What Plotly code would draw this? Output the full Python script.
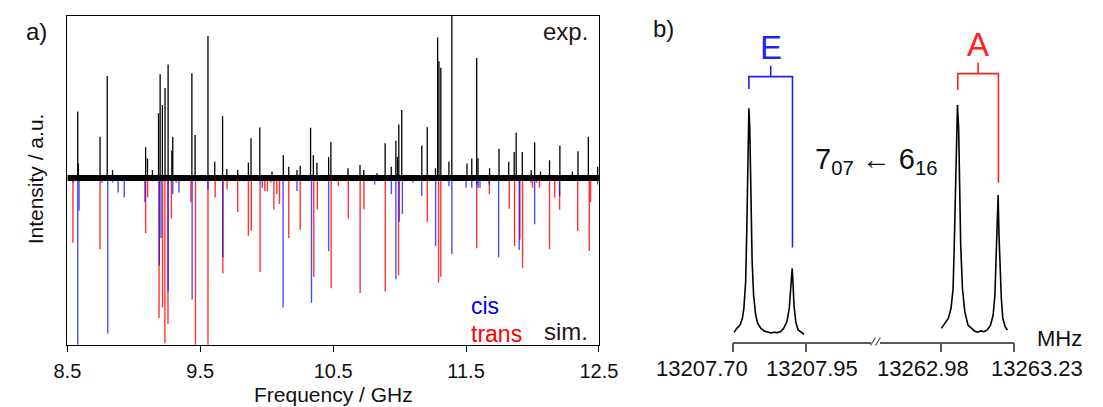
import plotly.graph_objects as go

# ---------------- panel a data ----------------
exp_freq = [8.578, 8.583, 8.746, 8.800, 8.840, 9.089, 9.103, 9.140, 9.186, 9.198, 9.215,
            9.235, 9.258, 9.286, 9.293, 9.437, 9.461, 9.558, 9.609, 9.668, 9.700, 9.782,
            9.862, 9.882, 9.948, 10.040, 10.125, 10.166, 10.228, 10.252, 10.330, 10.351,
            10.378, 10.466, 10.483, 10.612, 10.702, 10.730, 10.830, 10.891, 10.937, 10.972,
            10.984, 10.994, 11.016, 11.167, 11.208, 11.270, 11.286, 11.296, 11.310, 11.371,
            11.393, 11.507, 11.543, 11.580, 11.590, 11.677, 11.748, 11.821, 11.862, 11.877,
            11.923, 11.990, 12.016, 12.060, 12.128, 12.206, 12.300, 12.342, 12.420, 12.490]
exp_int = [0.41, 0.09, 0.255, 0.63, 0.05, 0.19, 0.12, 0.05, 0.40, 0.64, 0.45,
           0.555, 0.70, 0.17, 0.255, 0.646, 0.265, 0.876, 0.10, 0.383, 0.055, 0.05,
           0.095, 0.245, 0.311, 0.04, 0.14, 0.07, 0.05, 0.075, 0.31, 0.14,
           0.094, 0.13, 0.224, 0.06, 0.08, 0.05, 0.03, 0.214, 0.07, 0.23,
           0.13, 0.33, 0.42, 0.20, 0.313, 0.06, 0.868, 0.72, 0.68, 0.10,
           1.05, 0.09, 0.12, 0.74, 0.12, 0.06, 0.18, 0.10, 0.16, 0.28,
           0.16, 0.05, 0.22, 0.04, 0.11, 0.20, 0.04, 0.165, 0.254, 0.07]

cis_freq = [8.545, 8.578, 8.588, 8.631, 8.760, 8.804, 8.840, 8.882, 8.928, 9.030, 9.084,
            9.140, 9.150, 9.192, 9.205, 9.258, 9.293, 9.340, 9.439, 9.485, 9.550, 9.558,
            9.650, 9.670, 9.830, 9.967, 10.060, 10.123, 10.228, 10.337, 10.466, 10.655,
            10.812, 10.938, 10.972, 10.997, 11.021, 11.040, 11.100, 11.167, 11.271, 11.371,
            11.393, 11.500, 11.543, 11.580, 11.590, 11.605, 11.675, 11.745, 11.900, 12.016,
            12.204, 12.310, 12.360, 12.490]
cis_int = [0.03, 1.03, 0.20, 0.02, 0.03, 0.96, 0.03, 0.09, 0.12, 0.01, 0.15,
           0.02, 0.02, 0.54, 0.37, 0.70, 0.10, 0.09, 0.75, 0.02, 0.02, 0.07,
           0.02, 0.49, 0.02, 0.06, 0.02, 0.80, 0.08, 0.77, 0.45, 0.02,
           0.04, 0.10, 0.625, 0.27, 0.22, 0.02, 0.03, 0.11, 0.42, 0.05,
           0.47, 0.06, 0.06, 0.04, 0.06, 0.06, 0.04, 0.49, 0.445, 0.286,
           0.11, 0.02, 0.02, 0.04]

trans_freq = [8.542, 8.746, 9.089, 9.104, 9.190, 9.216, 9.234, 9.257, 9.283, 9.320, 9.430,
              9.464, 9.558, 9.612, 9.670, 9.702, 9.782, 9.862, 9.884, 9.950, 9.986, 10.005,
              10.030, 10.054, 10.076, 10.096, 10.166, 10.252, 10.354, 10.381, 10.485, 10.539,
              10.614, 10.703, 10.732, 10.892, 10.992, 11.208, 11.293, 11.310, 11.400, 11.580,
              11.675, 11.825, 11.865, 11.905, 11.925, 11.988, 12.000, 12.030, 12.052, 12.128,
              12.167, 12.204, 12.340, 12.427, 12.437]
trans_int = [0.40, 0.44, 0.34, 0.12, 0.865, 0.80, 1.02, 0.90, 0.25, 0.03, 0.15,
             1.03, 1.03, 0.12, 0.59, 0.07, 0.21, 0.356, 0.327, 0.58, 0.08, 0.08,
             0.03, 0.195, 0.10, 0.16, 0.37, 0.32, 0.61, 0.195, 0.68, 0.05,
             0.25, 0.71, 0.195, 0.70, 0.60, 0.27, 0.646, 0.61, 0.02, 0.434,
             0.10, 0.19, 0.42, 0.38, 0.557, 0.03, 0.06, 0.03, 0.06, 0.44,
             0.12, 0.196, 0.327, 0.45, 0.15]

a_ticks = [8.5, 9.5, 10.5, 11.5, 12.5]
a_tick_labels = ["8.5", "9.5", "10.5", "11.5", "12.5"]

# ---------------- panel b data ----------------
e_freq = [13207.705, 13207.714, 13207.725, 13207.733, 13207.738, 13207.744, 13207.748,
          13207.751, 13207.755, 13207.758, 13207.761, 13207.766, 13207.771, 13207.778,
          13207.785, 13207.796, 13207.807, 13207.818, 13207.829, 13207.840, 13207.851,
          13207.862, 13207.873, 13207.884, 13207.892, 13207.897, 13207.902, 13207.905,
          13207.908, 13207.914, 13207.922, 13207.933, 13207.942]
e_int = [2.88, 4.10, 5.13, 7.18, 10.25, 18.4, 34.8, 55.3, 71.7, 65.5, 45.0, 24.6, 14.3, 8.2,
         5.6, 4.1, 3.3, 2.9, 2.67, 2.9, 2.8, 3.07, 4.1, 6.1, 10.25, 16.4, 22.5, 17.4,
         11.3, 6.1, 3.6, 2.9, 2.26]

a_freq = [13262.981, 13262.992, 13263.005, 13263.014, 13263.021, 13263.025, 13263.030,
          13263.033, 13263.036, 13263.040, 13263.043, 13263.047, 13263.053, 13263.061,
          13263.072, 13263.083, 13263.094, 13263.105, 13263.116, 13263.127, 13263.138,
          13263.149, 13263.158, 13263.164, 13263.168, 13263.171, 13263.175, 13263.178,
          13263.181, 13263.186, 13263.191, 13263.199, 13263.207]
a_int = [4.1, 5.6, 7.2, 10.25, 16.4, 29.7, 50.2, 65.5, 72.7, 65.5, 50.2, 29.7, 16.4, 9.2,
         5.1, 4.1, 3.3, 2.9, 3.3, 3.07, 3.6, 5.1, 8.2, 14.3, 24.6, 32.8, 45.0, 32.8,
         22.5, 13.3, 7.2, 4.6, 3.6]

# brackets: left freq, right freq, bar height, left leg end, right leg end, centre top
e_bracket = [13207.755, 13207.903, 81.4, 77.6, 28.9, 84.7]
a_bracket = [13263.037, 13263.176, 82.3, 77.3, 48.8, 85.7]

b_ticks_low = [13207.70, 13207.95]
b_ticks_high = [13262.98, 13263.23]
b_tick_labels = ["13207.70", "13207.95", "13262.98", "13263.23"]

FONT = "Liberation Sans, Arial, sans-serif"
W, H = 1103, 407


def px_x(p):
    return p / W


def px_y(p):
    return (H - p) / H


def sticks(freqs, vals, sign):
    xs, ys = [], []
    for f, v in zip(freqs, vals):
        xs += [f, f, None]
        ys += [0, sign * v, None]
    return xs, ys


fig = go.Figure()

tx, ty = sticks(trans_freq, trans_int, -1)
fig.add_trace(go.Scatter(x=tx, y=ty, mode="lines", line=dict(color="rgba(255,0,0,0.8)", width=1.4),
                         hoverinfo="skip", showlegend=False))
cx, cy = sticks(cis_freq, cis_int, -1)
fig.add_trace(go.Scatter(x=cx, y=cy, mode="lines", line=dict(color="rgba(0,0,255,0.7)", width=1.4),
                         hoverinfo="skip", showlegend=False))
# noisy experimental baseline band
fig.add_trace(go.Scatter(x=[a_ticks[0], a_ticks[-1]], y=[0, 0], mode="lines",
                         line=dict(color="black", width=6), hoverinfo="skip", showlegend=False))
ex, ey = sticks(exp_freq, exp_int, 1)
fig.add_trace(go.Scatter(x=ex, y=ey, mode="lines", line=dict(color="black", width=1.3),
                         hoverinfo="skip", showlegend=False))

# panel b spectra
fig.add_trace(go.Scatter(x=e_freq, y=e_int, mode="lines", line=dict(color="black", width=1.6),
                         xaxis="x2", yaxis="y2", hoverinfo="skip", showlegend=False))
fig.add_trace(go.Scatter(x=a_freq, y=a_int, mode="lines", line=dict(color="black", width=1.6),
                         xaxis="x3", yaxis="y2", hoverinfo="skip", showlegend=False))


def bracket(b, color, xa):
    l, r, bar, ll, rl, top = b
    c = (l + r) / 2
    fig.add_trace(go.Scatter(x=[l, l, r, r, None, c, c], y=[ll, bar, bar, rl, None, bar, top],
                             mode="lines", line=dict(color=color, width=1.6),
                             xaxis=xa, yaxis="y2", hoverinfo="skip", showlegend=False))


bracket(e_bracket, "#1f1fff", "x2")
bracket(a_bracket, "#ff2020", "x3")

fig.update_layout(
    width=W, height=H, margin=dict(l=0, r=0, t=0, b=0),
    paper_bgcolor="white", plot_bgcolor="white",
    font=dict(family=FONT, color="#111111"),
    xaxis=dict(domain=[px_x(55), px_x(603)], range=[a_ticks[0], a_ticks[-1]],
               tickvals=a_ticks, ticktext=a_tick_labels, ticks="outside", ticklen=6,
               tickwidth=1.3, tickcolor="black", showline=True, linecolor="black",
               linewidth=1.3, mirror=True, showgrid=False, zeroline=False,
               tickfont=dict(size=20, family=FONT, color="#111111"), ticklabelstandoff=2),
    yaxis=dict(domain=[px_y(345), px_y(16)], range=[-1.031, 1.0], showticklabels=False,
               ticks="", showline=True, linecolor="black", linewidth=1.3, mirror=True,
               showgrid=False, zeroline=False),
    xaxis2=dict(domain=[px_x(740.7), px_x(883)], range=[13207.6995, 13208.168], anchor="y2",
                tickvals=b_ticks_low, showticklabels=False, ticks="outside", ticklen=9,
                tickwidth=1.5, tickcolor="#595959", showline=True, linecolor="#595959",
                linewidth=1.5, showgrid=False, zeroline=False),
    xaxis3=dict(domain=[px_x(893), px_x(1031.2)], range=[13262.772, 13263.2305], anchor="y2",
                tickvals=b_ticks_high, showticklabels=False, ticks="outside", ticklen=9,
                tickwidth=1.5, tickcolor="#595959", showline=True, linecolor="#595959",
                linewidth=1.5, showgrid=False, zeroline=False),
    yaxis2=dict(domain=[px_y(341.7), px_y(16)], range=[0, 100], anchor="x2", visible=False),
)

ann = []


def text(x, y, s, size, color="#111111", xanchor="center", yanchor="middle", xref="paper",
         yref="paper", angle=0, xshift=0):
    ann.append(dict(x=x, y=y, text=s, showarrow=False, xref=xref, yref=yref, xanchor=xanchor,
                    yanchor=yanchor, textangle=angle, xshift=xshift, borderpad=0,
                    font=dict(size=size, color=color, family=FONT)))


text(px_x(23), px_y(31), "a)", 24)
text(px_x(670), px_y(29), "b)", 24)
text(px_x(593), px_y(31.5), "exp.", 24, color="#2b1515", xanchor="right")
text(px_x(593), px_y(331.5), "sim.", 24, color="#2b1515", xanchor="right")
text(px_x(470), px_y(319.5), "cis", 23, color="#0000ff", xanchor="left", yanchor="bottom")
text(px_x(470), px_y(319.5), "trans", 23, color="#ff0000", xanchor="left", yanchor="top")
text(px_x(329), px_y(394.5), "Frequency / GHz", 21)
text(px_x(22), px_y(179), "Intensity / a.u.", 21, angle=-90)

# panel b labels
text((e_bracket[0] + e_bracket[1]) / 2, px_y(48), "E", 33, color="#1f1fff", xref="x2")
text((a_bracket[0] + a_bracket[1]) / 2, px_y(45), "A", 33, color="#ff2020", xref="x3")
text(px_x(889.5), px_y(161), "7<sub>07</sub> \u2190 6<sub>16</sub>", 29)
text(px_x(1078), px_y(338), "MHz", 22)
shifts = [-30.7, 5.3, -18, 22.5]
for val, lab, sh, xa in zip(b_ticks_low + b_ticks_high, b_tick_labels, shifts,
                            ["x2", "x2", "x3", "x3"]):
    text(val, px_y(368), lab, 22, xref=xa, xshift=sh)

fig.update_layout(annotations=ann)

# axis break marks
for x0 in (883, 888):
    fig.add_shape(type="line", xref="paper", yref="paper", x0=px_x(x0), y0=px_y(345.5),
                  x1=px_x(x0 + 5), y1=px_y(337.5), line=dict(color="#595959", width=1.3))

fig.write_html("out.html")
